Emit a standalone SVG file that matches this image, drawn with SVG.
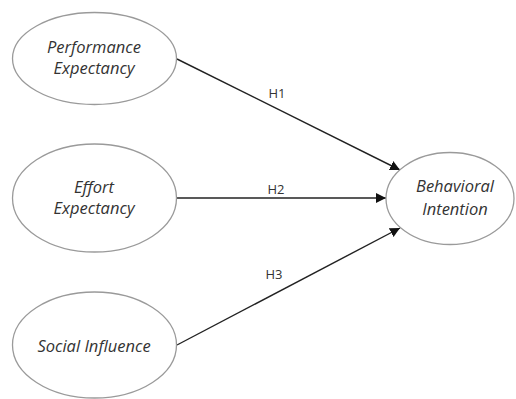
<svg xmlns="http://www.w3.org/2000/svg" width="516" height="399" viewBox="0 0 516 399">
<style>
.node ellipse{fill:#fff;stroke:#9a9a9a;stroke-width:1.3}
.node text{font-family:"Open Sans","Liberation Sans",sans-serif;font-style:italic;font-size:16.5px;fill:#333;text-anchor:middle}
.conn line{stroke:#222;stroke-width:1.4}
.lbl{font-family:"Open Sans","Liberation Sans",sans-serif;font-size:13px;fill:#333;text-anchor:middle}
</style>
<defs>
<marker id="arr" viewBox="0 0 10 10" refX="10" refY="5" markerWidth="10" markerHeight="10" markerUnits="userSpaceOnUse" orient="auto">
<path d="M0,0 L10,5 L0,10 z" fill="#111"/>
</marker>
</defs>
<rect width="516" height="399" fill="#fff"/>
<g class="conn">
<line x1="177" y1="59" x2="400" y2="170" marker-end="url(#arr)"/>
<line x1="177" y1="198" x2="386" y2="198" marker-end="url(#arr)"/>
<line x1="177" y1="345" x2="400" y2="228" marker-end="url(#arr)"/>
<text class="lbl" x="277" y="98">H1</text>
<text class="lbl" x="276" y="194">H2</text>
<text class="lbl" x="274" y="279">H3</text>
</g>
<g id="performance" class="node">
<ellipse cx="94.500" cy="58.500" rx="82" ry="46"/>
<text x="94" y="53">Performance</text>
<text x="94" y="74">Expectancy</text>
</g>
<g id="effort" class="node">
<ellipse cx="94.500" cy="198" rx="82" ry="54"/>
<text x="94" y="193">Effort</text>
<text x="94" y="214">Expectancy</text>
</g>
<g id="social" class="node">
<ellipse cx="94.500" cy="345" rx="82" ry="53"/>
<text x="94" y="352">Social Influence</text>
</g>
<g id="behavioral" class="node">
<ellipse cx="450" cy="198.500" rx="64" ry="46"/>
<text x="455" y="192">Behavioral</text>
<text x="455" y="215">Intention</text>
</g>
</svg>
